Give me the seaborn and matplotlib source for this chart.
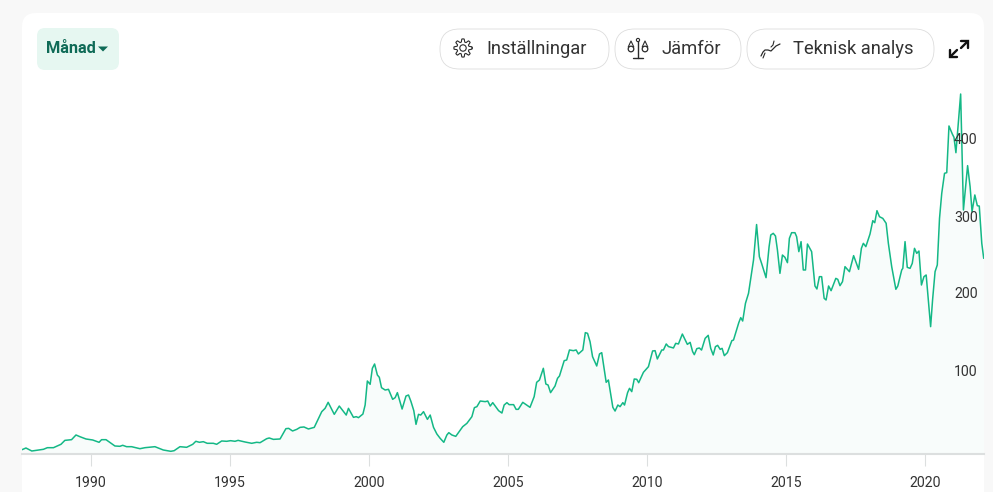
import numpy as np
import pandas as pd
import matplotlib
matplotlib.use("Agg")
import matplotlib.pyplot as plt
import seaborn as sns
from matplotlib.patches import FancyBboxPatch, Circle, Polygon
from matplotlib.transforms import ScaledTranslation

years = [1987.52,1987.66,1987.87,1988.05,1988.29,1988.43,1988.65,1988.92,1989.06,1989.30,1989.46,1989.60,1989.82,1990.06,1990.29,1990.38,1990.54,1990.86,1991.04,1991.14,1991.28,1991.46,1991.76,1991.94,1992.30,1992.60,1992.87,1992.99,1993.20,1993.44,1993.66,1993.77,1993.90,1994.04,1994.18,1994.40,1994.52,1994.70,1994.88,1995.02,1995.18,1995.29,1995.54,1995.78,1995.96,1996.08,1996.32,1996.41,1996.56,1996.80,1997.01,1997.11,1997.25,1997.40,1997.52,1997.66,1997.82,1998.03,1998.30,1998.42,1998.53,1998.75,1998.93,1999.18,1999.26,
         1999.44,1999.54,1999.62,1999.78,1999.86,1999.94,2000.04,2000.12,2000.20,2000.30,2000.37,2000.45,2000.58,2000.70,2000.85,2000.94,2001.02,2001.19,2001.33,2001.42,2001.51,2001.61,2001.69,2001.78,2001.86,2001.96,2002.10,2002.20,2002.32,2002.44,2002.56,2002.69,2002.80,2002.87,2002.98,2003.12,2003.37,2003.52,2003.70,2003.79,2003.88,2004.00,2004.18,2004.27,2004.36,2004.45,2004.66,2004.78,2004.86,2004.96,2005.04,2005.20,2005.29,2005.37,2005.53,2005.67,2005.79,2005.94,2006.03,2006.13,2006.27,2006.36,2006.44,2006.53,2006.69,2006.78,2006.85,2007.02,2007.11,2007.21,2007.35,2007.45,2007.53,2007.69,2007.78,2007.86,2007.95,2008.04,2008.19,2008.29,2008.37,2008.53,2008.61,2008.77,2008.85,2008.95,2009.03,2009.13,2009.19,2009.30,2009.37,2009.45,2009.54,2009.63,2009.70,2009.87,2010.05,2010.20,2010.29,2010.37,2010.53,2010.59,2010.69,2010.77,2010.95,2011.03,2011.13,2011.27,2011.39,2011.45,2011.55,2011.64,2011.70,2011.79,2011.88,2011.96,2012.09,2012.20,2012.29,2012.38,2012.46,2012.54,2012.63,2012.70,2012.78,2012.89,2013.05,2013.11,2013.30,2013.37,2013.44,2013.54,2013.65,2013.83,2013.94,
         2014.04,2014.12,2014.28,2014.39,2014.45,2014.54,2014.62,2014.69,2014.78,2014.87,2014.96,2015.05,2015.12,2015.20,2015.32,2015.38,2015.46,2015.54,2015.62,2015.70,2015.77,2015.92,2016.04,2016.11,2016.20,2016.28,2016.37,2016.44,2016.53,2016.62,2016.79,2016.86,2016.94,2017.03,2017.12,2017.28,2017.43,2017.61,2017.71,2017.78,2017.87,2018.02,2018.12,2018.19,2018.27,2018.36,2018.48,2018.60,2018.68,2018.80,2018.95,2019.02,2019.16,2019.20,2019.28,2019.36,2019.46,2019.54,2019.62,2019.70,2019.78,2019.87,2019.96,2020.04,2020.20,2020.27,2020.36,2020.44,2020.52,2020.60,2020.70,2020.78,2020.86,2020.98,2021.04,2021.11,2021.28,2021.38,2021.53,2021.62,2021.69,2021.79,2021.88,2021.95,2022.04,2022.11]
prices = [5.6,7.8,3.9,4.8,6.1,8.2,8.2,12.6,17.7,18.6,24.7,22.5,19.5,18.2,15.2,18.6,18.6,10.4,10.0,11.3,9.5,9.5,6.9,8.2,9.5,5.2,3.5,4.3,9.5,8.7,12.6,16.5,15.2,16.0,13.9,13.9,12.6,16.9,16.5,17.3,16.5,17.7,15.6,13.9,15.2,14.7,19.9,20.8,19.0,19.5,32.9,33.3,29.9,32.0,34.6,35.1,32.5,34.6,55.0,59.3,67.1,51.5,62.3,50.6,59.3,
          47.6,48.5,47.2,51.9,63.6,94.8,90.5,111.3,116.9,102.6,99.6,86.1,83.1,84,71,73.2,79.7,58.4,75.3,76.6,68,56.3,38.5,51.5,50.6,55,45,50.6,34.6,26,20.3,15.2,24.7,27.7,24.7,22.9,35.5,39.8,48.5,60.2,61.5,68.8,68,68.8,62.3,66.7,56.3,53.2,63.6,66.7,64.1,64.1,58,58,67.1,63.6,60.6,74.5,93.1,96.1,111.3,90.9,89.6,79.7,88.3,98.3,101.3,121.2,122.1,135.1,134.2,135.1,129.9,135.1,157.6,156.7,145.9,126.4,114.3,129.9,131.6,93.1,96.1,60.6,55.8,63.6,61.5,66.7,63.6,79.7,85.3,81,97.4,97,92.6,106.1,113.4,133.8,134.2,123.4,135.1,135.1,142.9,139.5,137.7,143.7,142.9,155.8,146.8,142.4,145,132.9,129,136.8,137.7,135,150.2,154.1,137.2,128.6,139.4,141.1,135.9,137.2,127.7,131.6,147.2,148,170.6,177.1,172.7,195.7,208.7,252,298,
          256.3,247.6,229,269.3,284.4,286.6,283.1,264.9,234.6,258.4,255.4,248.5,280.1,287.4,287.4,282.3,262.8,275.8,239,239,272.7,262.8,218.2,214.3,230.3,230.3,202.2,200,218.2,212.1,228.1,226.8,218.6,223.8,243.3,236.8,257.6,239.8,267.1,273.6,269.3,285.7,303,300.4,316,308.2,306,299.6,273.6,243.3,213.9,218.2,239,241.1,275.8,242.4,241.1,247.6,267.1,260.6,263.6,219.5,230.3,232.5,165.4,200,236.8,245.5,306,338.5,364.5,365.4,426,415.6,411.3,391.3,467.5,316.9,374.5,347.2,314.7,336.4,322.5,322,273.6,254.1]
x_ticks = [1990, 1995, 2000, 2005, 2010, 2015, 2020]
y_ticks = [100, 200, 300, 400]
period_label = "Månad"
button_labels = ["Inställningar", "Jämför", "Teknisk analys"]

sns.set_theme(style="white")
plt.rcParams["font.family"] = ["Roboto", "DejaVu Sans"]

W, H = 993, 492
fig = plt.figure(figsize=(W / 100, H / 100), dpi=100, facecolor="#f8f8f8")

# page chrome layer, in pixel units
bg = fig.add_axes([0, 0, 1, 1], zorder=0)
bg.set_xlim(0, W); bg.set_ylim(H, 0); bg.axis("off")
bg.add_patch(FancyBboxPatch((34, 25), 938, 500, boxstyle="round,pad=12,rounding_size=14",
                            fc="white", ec="none", clip_on=True))

# chart
ax = fig.add_axes([22 / W, (H - 454) / H, 962 / W, 374 / H], zorder=1)
ax.patch.set_alpha(0)
ax.set_axisbelow(False)
df = pd.DataFrame({"year": years, "price": prices})
ax.fill_between(df["year"], df["price"], 0, color="#f8fcfb", lw=0)
sns.lineplot(data=df, x="year", y="price", ax=ax, estimator=None, sort=False,
             color="#14b886", lw=1.1)
ax.set_xlim(1987.518, 2022.12)
ax.set_ylim(0, 374 / 0.77)
ax.set_xlabel(""); ax.set_ylabel("")
for s in ["top", "left", "right"]:
    ax.spines[s].set_visible(False)
ax.spines["bottom"].set_color("#dcdfdf")
ax.spines["bottom"].set_linewidth(1.5)
ax.set_xticks(x_ticks)
ax.set_xticklabels([str(v) for v in x_ticks])
ax.tick_params(axis="x", length=8.6, width=0.8, color="#dcdfdf", pad=7.4,
               labelsize=10.2, labelcolor="#333333", bottom=True)
ax.yaxis.tick_right()
ax.set_yticks(y_ticks)
ax.set_yticklabels([str(v) for v in y_ticks], ha="right")
ax.tick_params(axis="y", length=0, pad=-4.5, labelsize=10.2, labelcolor="#333333")
shift = ScaledTranslation(0, 7 / 100, fig.dpi_scale_trans)
for lab in ax.get_yticklabels():
    lab.set_transform(lab.get_transform() + shift)

# toolbar layer, in pixel units
ui = fig.add_axes([0, 0, 1, 1], zorder=2)
ui.set_xlim(0, W); ui.set_ylim(H, 0); ui.axis("off"); ui.patch.set_alpha(0)

def box(x0, y0, x1, y1, r, fc, ec):
    ui.add_patch(FancyBboxPatch((x0 + r, y0 + r), x1 - x0 - 2 * r, y1 - y0 - 2 * r,
                                boxstyle=f"round,pad={r},rounding_size={r}",
                                fc=fc, ec=ec, lw=0.6))

box(37, 28, 119, 70, 8, "#e6f7f1", "none")
ui.text(46, 48.5, period_label, ha="left", va="center", fontsize=11.8, fontweight="bold", color="#0f6b57")
ui.add_patch(Polygon([[98, 46.5], [108, 46.5], [103, 51.5]], fc="#0f6b57", ec="none"))

INK = "#2b2b2b"
pills = [(440, 609, 486), (615, 741, 661), (747, 934, 793)]
for (x0, x1, tx), label in zip(pills, button_labels):
    box(x0, 29, x1, 69, 19.5, "white", "#dddddd")
    ui.text(tx, 48.5, label, ha="left", va="center", fontsize=13.2, color="#333333")

# gear icon
t = np.linspace(0, 2 * np.pi, 193)
r = 7.6 + 1.5 * np.clip(1.8 * np.cos(8 * t), -1, 1)
ui.plot(463 + r * np.cos(t), 48 + r * np.sin(t), color=INK, lw=0.8)
ui.add_patch(Circle((463, 48), 3.2, fc="none", ec=INK, lw=0.8))

# scales icon
ui.plot([638, 638], [41, 58], color=INK, lw=1.0)
ui.plot([633, 643], [58, 58], color=INK, lw=1.0)
ui.add_patch(Circle((638, 40), 1.6, fc="white", ec=INK, lw=0.8))
for cx in (631, 645):
    ui.plot([cx - 2.8, cx, cx + 2.8], [47, 41, 47], color=INK, lw=0.8)
    ui.add_patch(Circle((cx, 49), 2.8, fc="white", ec=INK, lw=0.9))

# analysis icon
ui.plot([761, 763, 765, 768, 771, 773, 776, 780], [56, 52, 50, 50, 51, 49, 46, 44], color=INK, lw=0.9)
ui.plot([763, 765], [58, 53], color=INK, lw=0.8)
ui.plot([771, 773, 774], [47, 45, 41], color=INK, lw=0.8)

# expand icon
for pts in ([[961, 41], [968, 41], [968, 48]], [[950, 50], [950, 57], [957, 57]]):
    ui.plot(*zip(*pts), color="#111111", lw=1.7, solid_joinstyle="miter")
ui.plot([967, 961], [42, 48], color="#111111", lw=1.7)
ui.plot([951, 957], [56, 50], color="#111111", lw=1.7)

fig.savefig("out.png", dpi=100, facecolor=fig.get_facecolor())
